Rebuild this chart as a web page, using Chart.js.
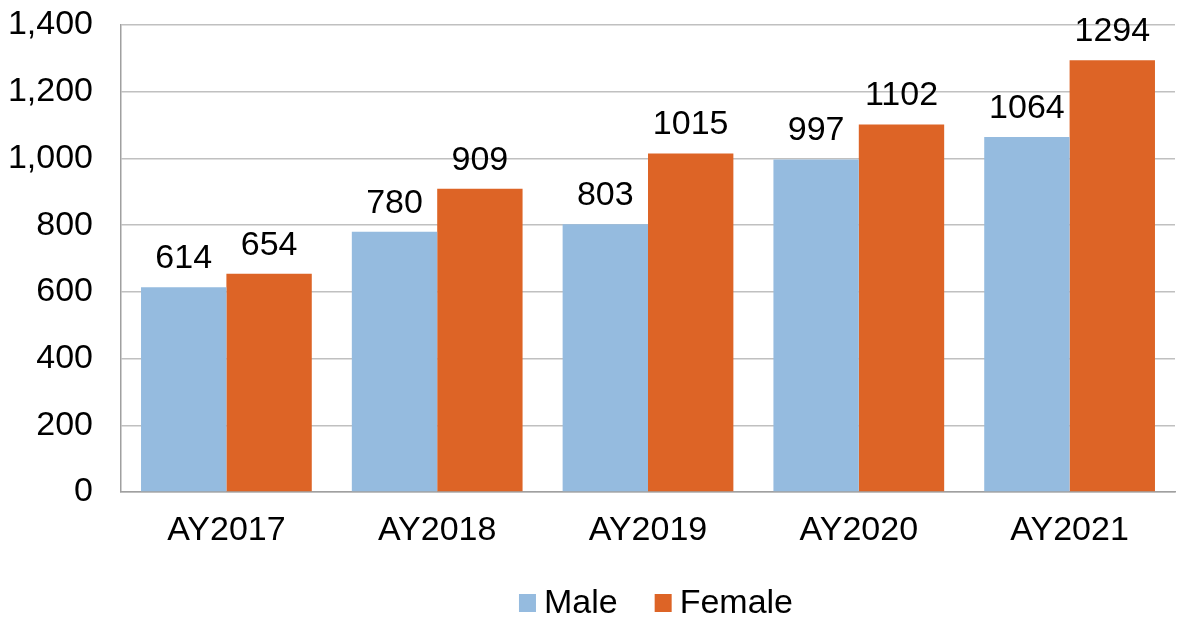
<!DOCTYPE html>
<html lang="en">
<head>
  <meta charset="UTF-8">
  <title>Enrollment by gender</title>
  <script src="https://cdn.jsdelivr.net/npm/chart.js"></script>
  <style>
    body, html {
      margin: 0;
      padding: 0;
      background: #fff;
    }
    #wrap {
      width: 1177px;
      height: 617px;
    }
  </style>
</head>
<body>
  <div id="wrap"><canvas id="grafico"></canvas></div>
  <script>
    const years = ["AY2017", "AY2018", "AY2019", "AY2020", "AY2021"];
    const male = [614, 780, 803, 997, 1064];
    const female = [654, 909, 1015, 1102, 1294];
    const yTicks = [0, 200, 400, 600, 800, 1000, 1200, 1400];

    const FONT = "'Liberation Sans', Arial, sans-serif";
    const SIZE = 34;
    Chart.defaults.font.family = FONT;
    Chart.defaults.color = "#000";

    // value above each bar
    const barLabels = {
      id: "barLabels",
      afterDatasetsDraw(chart) {
        const c = chart.ctx;
        c.save();
        c.font = SIZE + "px " + FONT;
        c.fillStyle = "#000";
        c.textAlign = "center";
        c.textBaseline = "alphabetic";
        chart.data.datasets.forEach((ds, i) => {
          chart.getDatasetMeta(i).data.forEach((bar, j) => {
            c.fillText(String(ds.data[j]), bar.x, bar.y - 19);
          });
        });
        c.restore();
      }
    };

    // legend row under the axis: small square, then the name
    const bottomLegend = {
      id: "bottomLegend",
      afterDraw(chart) {
        const c = chart.ctx;
        const sets = chart.data.datasets;
        c.save();
        c.font = SIZE + "px " + FONT;
        c.textBaseline = "middle";
        c.textAlign = "left";
        const box = 17, gapText = 8, gapItem = 37;
        const widths = sets.map(ds => c.measureText(ds.label).width);
        let total = 0;
        widths.forEach((w, i) => { total += box + gapText + w + (i ? gapItem : 0); });
        let x = 656 - total / 2;
        const y = 603;
        sets.forEach((ds, i) => {
          c.fillStyle = ds.backgroundColor;
          c.fillRect(x, y - 9, box, 18);
          x += box + gapText;
          c.fillStyle = "#000";
          c.fillText(ds.label, x, y + 1);
          x += widths[i] + gapItem;
        });
        c.restore();
      }
    };

    new Chart(document.getElementById("grafico"), {
      type: "bar",
      data: {
        labels: years,
        datasets: [
          { label: "Male", data: male, backgroundColor: "#95bbdf" },
          { label: "Female", data: female, backgroundColor: "#dd6426" }
        ]
      },
      options: {
        responsive: true,
        maintainAspectRatio: false,
        animation: false,
        layout: { padding: { top: 25, right: 2, left: 0, bottom: 55 } },
        datasets: {
          bar: { categoryPercentage: 0.81, barPercentage: 1.0 }
        },
        scales: {
          x: {
            grid: { display: false, drawTicks: false },
            border: { display: true, color: "#a0a0a0", width: 1.5 },
            ticks: { font: { size: SIZE }, padding: 18 },
            afterFit(scale) {
              scale.height = 70;
              scale.paddingLeft = 0;
              scale.paddingRight = 0;
            }
          },
          y: {
            min: 0,
            max: 1400,
            afterBuildTicks(scale) {
              scale.ticks = yTicks.map(v => ({ value: v }));
            },
            grid: { color: "#c0c0c0", lineWidth: 1.5, drawTicks: false },
            border: { display: true, color: "#a0a0a0", width: 1.5 },
            ticks: {
              font: { size: SIZE },
              padding: 28,
              callback: v => v.toLocaleString("en-US")
            },
            afterFit(scale) {
              scale.width = 121;
              scale.paddingTop = 0;
              scale.paddingBottom = 0;
            }
          }
        },
        plugins: {
          legend: { display: false },
          tooltip: { enabled: false }
        }
      },
      plugins: [barLabels, bottomLegend]
    });
  </script>
</body>
</html>
